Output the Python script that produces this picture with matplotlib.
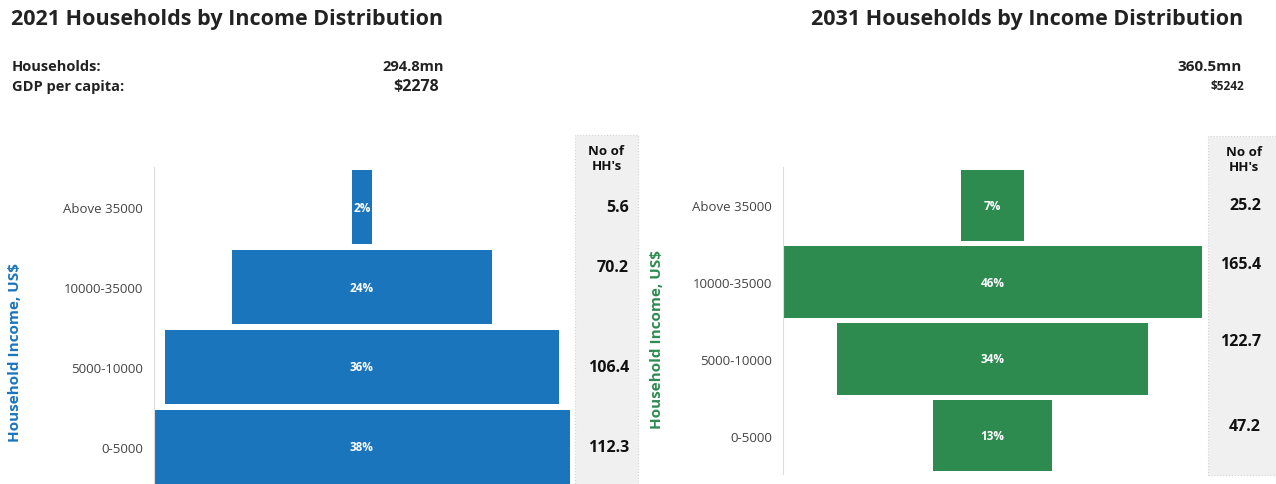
import matplotlib
matplotlib.use("Agg")
import matplotlib.pyplot as plt
import matplotlib.patches as mpatches

plt.rcParams['font.family'] = ['Open Sans', 'DejaVu Sans']

# Data...
categories = ["0-5000", "5000-10000", "10000-35000", "Above 35000"]

hh_2021  = [112.3, 106.4, 70.2, 5.6]
pct_2021 = ["38%", "36%", "24%", "2%"]
hh_2031  = [47.2, 122.7, 165.4, 25.2]
pct_2031 = ["13%", "34%", "46%", "7%"]

title_2021 = "2021 Households by Income Distribution"
title_2031 = "2031 Households by Income Distribution"
total_2021, gdp_2021 = "294.8mn", "$2278"
total_2031, gdp_2031 = "360.5mn", "$5242"

BLUE  = "#1a75bc"
GREEN = "#2e8b50"

W, H = 1276, 485
fig = plt.figure(figsize = (W / 100, H / 100), dpi = 100)


def fx(px): return px / W
def fy(py): return 1 - py / H


def draw_panel(vals, pcts, color, box, col_box, val_shift, label_x, ylab_x, ylab_y):
    # box: (x0, y0_top, x1, y1_bottom) in pixels
    x0, yt, x1, yb = box

    # Side column with counts (behind everything)...
    cx0, cyt, cx1, cyb = col_box
    rect = mpatches.Rectangle((fx(cx0), fy(cyb)), fx(cx1 - cx0), (cyb - cyt) / H,
                              transform = fig.transFigure, facecolor = '#f0f0f0',
                              edgecolor = '#d4d4d4', linestyle = ':', linewidth = 0.8,
                              zorder = -5)
    fig.patches.append(rect)
    fig.text(fx((cx0 + cx1) / 2), fy(cyt + 23), "No of\nHH's", ha = 'center',
             va = 'center', fontsize = 9.5, fontweight = 'bold', linespacing = 1.25,
             color = '#111111')

    ax = fig.add_axes([fx(x0), fy(yb), fx(x1 - x0), (yb - yt) / H])
    ax.patch.set_alpha(0)
    half = max(vals) / 2
    ypos = list(range(len(categories)))
    ax.barh(ypos, vals, left = [-v / 2 for v in vals], height = 0.93,
            color = color, edgecolor = 'none')
    for y, p in zip(ypos, pcts):
        ax.text(0, y, p, color = 'white', ha = 'center', va = 'center',
                fontsize = 8.5, fontweight = 'bold')
    ax.set_xlim(-half, half)
    ax.set_ylim(-0.5, 3.5)
    for s in ['top', 'right', 'bottom']: ax.spines[s].set_visible(False)
    ax.spines['left'].set_color('#dddddd')
    ax.spines['left'].set_linewidth(0.8)
    ax.set_xticks([])
    ax.set_yticks(ypos)
    ax.set_yticklabels(categories, fontsize = 9.5, color = '#444444')
    ax.tick_params(axis = 'y', length = 0, pad = 8)
    ax.set_ylabel("Household Income, US$", color = color, fontsize = 11,
                  fontweight = 'bold')
    ax.yaxis.set_label_coords((ylab_x - x0) / (x1 - x0), ylab_y)

    for y, v, dy in zip(ypos, vals, val_shift):
        ax.text(label_x, y + dy, f"{v}", transform = ax.get_yaxis_transform(),
                ha = 'right', va = 'center', fontsize = 11.5, fontweight = 'bold',
                color = '#111111', clip_on = False)
    return ax


# Left panel (2021)...
draw_panel(hh_2021, pct_2021, BLUE,
           box = (154, 168, 570, 488), col_box = (575, 136, 638, 490),
           val_shift = [0, 0, 0.25, 0],
           label_x = (629 - 154) / (570 - 154), ylab_x = 22, ylab_y = 0.425)

# Right panel (2031)...
draw_panel(hh_2031, pct_2031, GREEN,
           box = (783, 168, 1202, 475), col_box = (1208, 137, 1280, 476),
           val_shift = [0.13, 0.23, 0.23, 0],
           label_x = (1261 - 783) / (1202 - 783), ylab_x = 664, ylab_y = 0.44)

# Titles and header figures...
fig.text(fx(11), fy(20), title_2021, fontsize = 15.5, fontweight = 'bold',
         color = '#222222', va = 'center')
fig.text(fx(811), fy(20), title_2031, fontsize = 15.5, fontweight = 'bold',
         color = '#222222', va = 'center')
fig.text(fx(12), fy(67), "Households:", fontsize = 10.5, fontweight = 'bold',
         color = '#222222', va = 'center')
fig.text(fx(12), fy(87), "GDP per capita:", fontsize = 10.5, fontweight = 'bold',
         color = '#222222', va = 'center')
fig.text(fx(444), fy(67), total_2021, fontsize = 10.5, fontweight = 'bold',
         color = '#222222', va = 'center', ha = 'right')
fig.text(fx(439), fy(87), gdp_2021, fontsize = 11.5, fontweight = 'bold',
         color = '#222222', va = 'center', ha = 'right')
fig.text(fx(1242), fy(67), total_2031, fontsize = 11, fontweight = 'bold',
         color = '#222222', va = 'center', ha = 'right')
fig.text(fx(1244), fy(87), gdp_2031, fontsize = 8.5, fontweight = 'bold',
         color = '#222222', va = 'center', ha = 'right')

fig.savefig("out.png", dpi = 100, facecolor = 'white')
